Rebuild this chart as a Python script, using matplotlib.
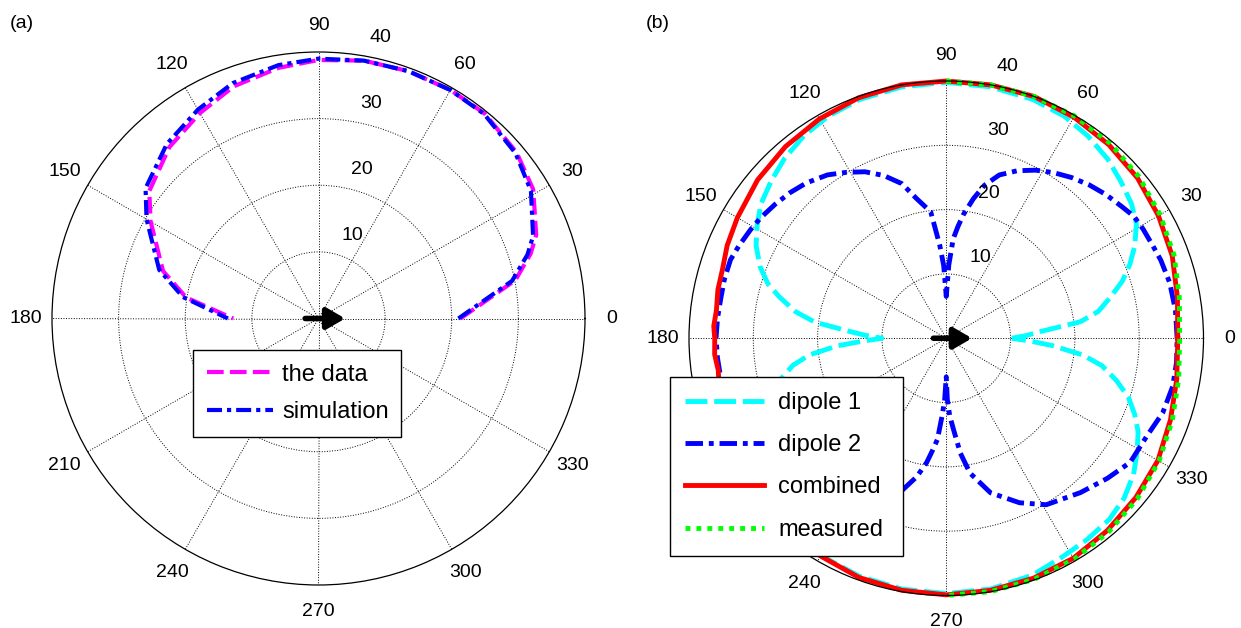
import numpy as np
import matplotlib
matplotlib.use('Agg')
import matplotlib.pyplot as plt
from matplotlib.transforms import ScaledTranslation

plt.rcParams['font.family'] = ['Liberation Sans', 'DejaVu Sans']

# ---- (a) radiation pattern: data vs simulation (angle in degrees, radius) ----
data_deg = [0, 11, 17, 21, 31, 40, 51, 60, 70, 80, 90, 99, 110, 120, 131, 143, 150, 163, 171, 180]
data_r = [21.3, 30.1, 33.3, 35.0, 37.6, 38.8, 39.6, 39.6, 39.5, 39.3, 38.8, 38.1, 37.1, 35.6,
          34.1, 31.8, 29.1, 24.4, 20.1, 12.8]
sim_deg = [0, 11, 17, 21, 31, 40, 51, 60, 70, 80, 90, 99, 110, 120, 131, 143, 150, 163, 171, 180]
sim_r = [21.0, 29.6, 32.8, 34.5, 37.2, 38.6, 39.5, 39.6, 39.5, 39.3, 39.0, 38.5, 37.6, 36.2,
         34.7, 32.5, 29.8, 25.0, 20.6, 13.6]

# ---- (b) two dipoles, combined and measured ----
d1_deg = [0, 2, 4, 7, 10, 14, 18, 22, 26, 31, 36, 42, 48, 55, 62, 70, 80, 90,
          100, 110, 118, 125, 132, 138, 144, 149, 154, 159, 163, 166, 170, 173, 176, 178, 180,
          182, 184, 187, 190, 194, 198, 202, 206, 211, 216, 222, 228, 235, 242, 250, 260, 270,
          280, 290, 298, 305, 312, 318, 324, 329, 334, 338, 342, 346, 350, 353, 356, 358, 360]
d1_r = [10.2, 12.5, 14.6, 21.0, 24.0, 26.3, 28.8, 30.8, 32.6, 34.5, 35.6, 36.5, 37.5, 38.4, 39.1, 39.5, 39.7, 39.8,
        39.7, 39.5, 39.1, 38.5, 37.6, 36.6, 35.6, 34.3, 32.9, 31.0, 29.0, 26.8, 23.8, 20.6, 15.0, 12.5, 10.0,
        13.0, 17.0, 21.5, 24.2, 26.6, 28.8, 30.7, 32.3, 34.0, 35.3, 36.4, 37.4, 38.3, 39.0, 39.4, 39.6, 39.7,
        39.6, 39.2, 38.5, 38.2, 37.9, 37.2, 36.0, 34.6, 33.2, 31.6, 29.8, 27.3, 24.6, 21.4, 16.6, 13.2, 10.2]

d2_deg = [0, 7, 14, 20, 24, 29, 33, 37, 42, 47, 52, 57, 62, 67, 72, 76, 79, 82, 84, 86, 88, 90,
          92, 94, 97, 102, 106, 111, 116, 121, 126, 132, 137, 142, 147, 151, 156, 160, 165, 170, 175, 180,
          185, 190, 195, 200, 206, 212, 218, 224, 230, 236, 242, 248, 254, 258, 261, 263, 265, 267, 268.5, 270,
          271, 272.5, 274.6, 277, 280, 286, 294, 301, 311, 319, 326, 334, 341, 348, 354, 360]
d2_r = [35.9, 35.9, 35.8, 35.5, 35.2, 35.0, 34.8, 34.1, 33.4, 32.6, 31.7, 30.7, 29.6, 28.3, 26.7, 24.5, 22.1,
        19.5, 17.5, 15.5, 11.4, 6.5,
        11.3, 14.5, 19.8, 22.2, 25.0, 27.1, 28.8, 30.1, 31.4, 32.5, 33.2, 33.8, 34.4, 34.8, 35.3, 35.7, 35.7,
        35.6, 35.7, 35.8,
        35.7, 35.6, 35.6, 35.4, 35.1, 34.6, 34.0, 33.2, 32.2, 30.8, 29.2, 27.2, 24.5, 22.0, 19.6, 17.6, 15.8,
        12.0, 9.6, 6.0,
        9.5, 12.0, 14.3, 18.0, 21.3, 25.0, 28.0, 30.2, 31.8, 33.2, 34.5, 34.7, 35.6, 36.0, 36.0, 35.9]

comb_deg = [0, 10, 20, 30, 40, 50, 60, 70, 80, 90, 100, 110, 120, 130, 140, 150,
            157, 163, 168, 173, 177, 180, 184, 188, 193, 198, 204, 210,
            220, 230, 240, 250, 260, 270, 280, 290, 300, 310, 320, 330, 340, 350, 360]
comb_r = [36.0, 36.5, 37.4, 38.1, 38.8, 39.3, 39.7, 40.0, 40.0, 40.0, 40.0, 39.8, 39.4, 38.9, 38.3, 37.5,
          37.0, 36.4, 36.3, 36.0, 36.2, 36.0, 36.1, 35.8, 36.2, 36.4, 36.9, 37.3,
          37.9, 38.5, 39.1, 39.6, 39.8, 39.9, 39.8, 39.7, 39.5, 39.0, 38.5, 38.0, 37.1, 36.4, 36.0]

meas_deg = [90, 80, 70, 60, 50, 40, 30, 20, 10, 0, -10, -20, -30, -40, -50, -60, -70, -80, -90]
meas_r = [40.0, 40.0, 40.0, 39.9, 39.6, 39.1, 38.4, 37.7, 36.8, 36.3, 36.7, 37.4, 38.2, 38.8, 39.3,
          39.7, 39.9, 40.0, 40.0]

rmax = 40
ring_ticks = [10, 20, 30, 40]
angle_ticks = list(range(0, 360, 30))

fig = plt.figure(figsize=(12.41, 6.28), dpi=100)
W, H = 1241.0, 628.0


def polar_frame(ax):
    ax.set_ylim(0, rmax)
    ax.set_thetagrids(angle_ticks, labels=[''] * len(angle_ticks))
    ax.set_rgrids(ring_ticks[:-1], labels=[''] * (len(ring_ticks) - 1))
    ax.grid(True, color='k', linestyle=':', linewidth=0.7)
    ax.spines['polar'].set_linewidth(0.9)
    ax.tick_params(length=0)
    for a in angle_ticks:
        ax.text(np.deg2rad(a), rmax * 1.1, str(a), ha='center', va='center',
                fontsize=14, clip_on=False)
    off = ScaledTranslation(0.25, 0.17, fig.dpi_scale_trans)
    for v in ring_ticks:
        ax.text(np.deg2rad(82), v, str(v), ha='center', va='center', fontsize=14,
                transform=ax.transData + off)
    ax.annotate('', xy=(0, 4.0), xytext=(np.pi, 2.0),
                arrowprops=dict(arrowstyle='-|>,head_length=0.6,head_width=0.35',
                                mutation_scale=18, color='k', lw=4,
                                shrinkA=0, shrinkB=0), zorder=10)


def boxed_legend(ax, x0, y0, x1, y1, **kw):
    leg = ax.legend(loc='upper left', bbox_to_anchor=(x0 / W, 1 - y1 / H, (x1 - x0) / W, (y1 - y0) / H),
                    bbox_transform=fig.transFigure, mode='expand', borderaxespad=0,
                    fancybox=False, framealpha=1, edgecolor='k', fontsize=17, **kw)
    leg.get_frame().set_linewidth(1.0)
    return leg


# left panel
axa = fig.add_axes([52 / W, 1 - 585 / H, 533 / W, 533 / H], projection='polar')
polar_frame(axa)
axa.plot(np.deg2rad(data_deg), data_r, color='#FF00FF', lw=3, dashes=(4, 1.5),
         label='the data', clip_on=False)
axa.plot(np.deg2rad(sim_deg), sim_r, color='#0000FF', lw=3, dashes=(3.6, 1.2, 1.0, 1.2),
         label='simulation', clip_on=False)
boxed_legend(axa, 193, 350, 401, 433, handlelength=2.8, labelspacing=0.66,
             borderpad=0.58, handletextpad=0.4)
fig.text(22 / W, 1 - 23 / H, '(a)', ha='center', va='center', fontsize=14)

# right panel
axb = fig.add_axes([689 / W, 1 - 595.5 / H, 514.5 / W, 514.5 / H], projection='polar')
polar_frame(axb)
axb.plot(np.deg2rad(d1_deg), d1_r, color='#00FFFF', lw=3.5, dashes=(4.5, 1.4),
         label='dipole 1', clip_on=False)
axb.plot(np.deg2rad(d2_deg), d2_r, color='#0000FF', lw=3.5, dashes=(3.6, 1.2, 1.0, 1.2),
         label='dipole 2', clip_on=False)
axb.plot(np.deg2rad(comb_deg), comb_r, color='#FF0000', lw=3.5, label='combined', clip_on=False)
axb.plot(np.deg2rad(meas_deg), meas_r, color='#00FF00', lw=3.5, dashes=(1.0, 1.25),
         label='measured', clip_on=False)
boxed_legend(axb, 670, 377, 903, 552, handlelength=3.35, labelspacing=0.86,
             borderpad=0.63, handletextpad=0.6)
fig.text(658 / W, 1 - 23 / H, '(b)', ha='center', va='center', fontsize=14)

fig.savefig('out.png', dpi=100)
